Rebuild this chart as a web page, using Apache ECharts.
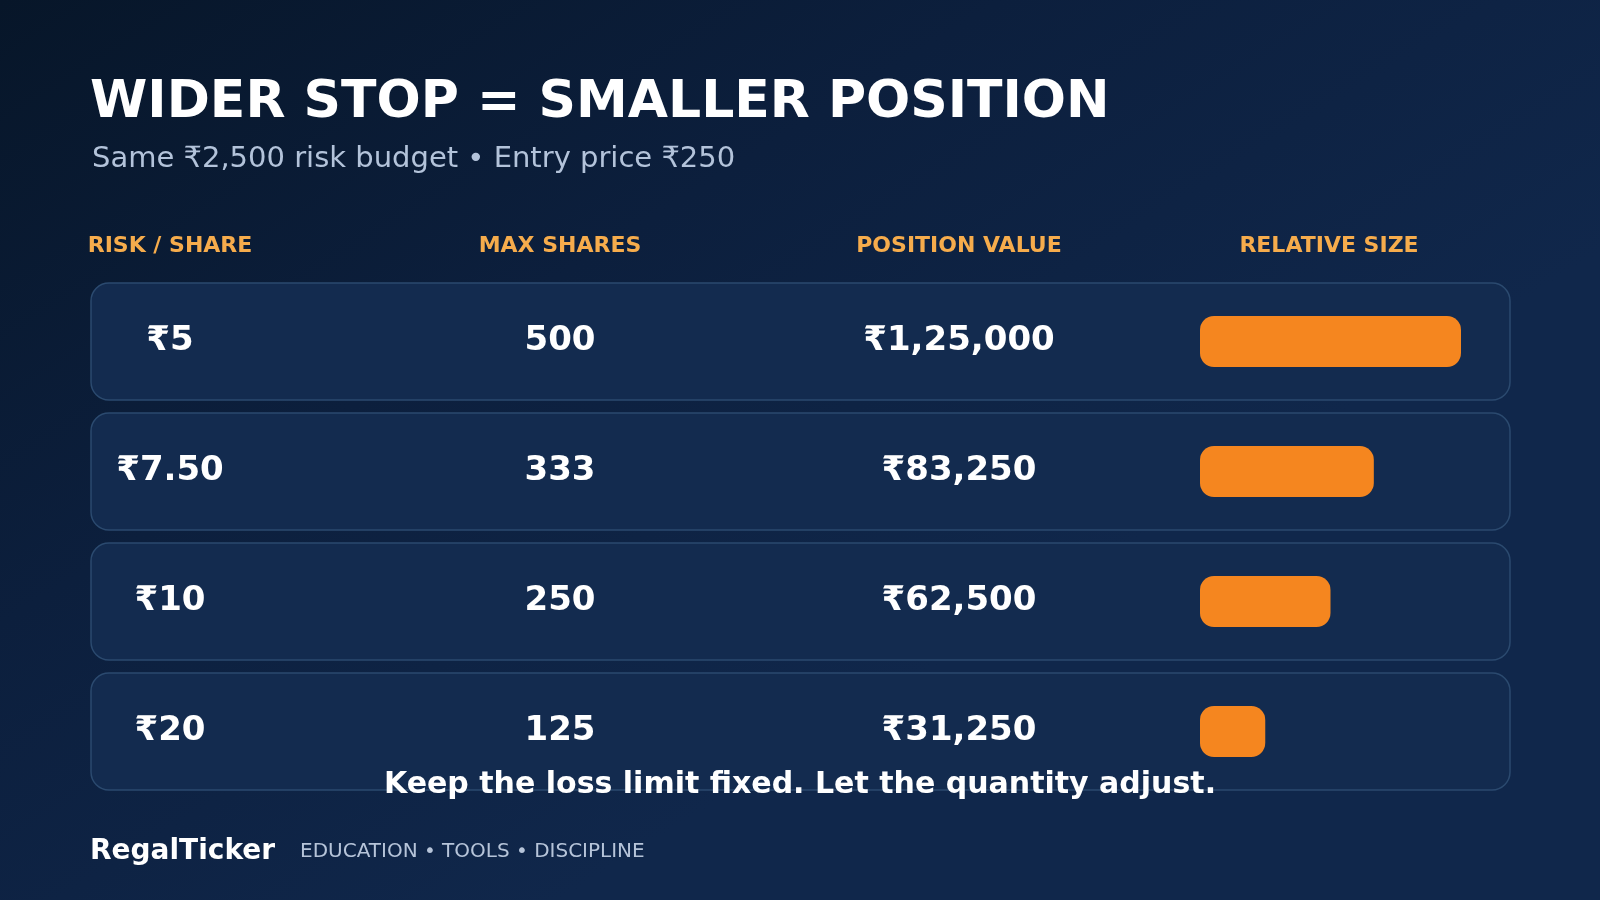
<!DOCTYPE html>
<html>
<head>
<meta charset="utf-8">
<script src="https://cdn.jsdelivr.net/npm/echarts@6/dist/echarts.min.js"></script>
<style>
html,body{margin:0;padding:0;background:#0a1a33;}
#chart{width:1600px;height:900px;}
</style>
</head>
<body>
<div id="chart"></div>
<script>
// ---- data ----
const headers = ['RISK / SHARE', 'MAX SHARES', 'POSITION VALUE', 'RELATIVE SIZE'];
const riskPerShare = ['₹5', '₹7.50', '₹10', '₹20'];
const maxShares = [500, 333, 250, 125];
const positionValue = [125000, 83250, 62500, 31250];
const titleText = 'WIDER STOP = SMALLER POSITION';
const subtitleText = 'Same ₹2,500 risk budget • Entry price ₹250';
const noteText = 'Keep the loss limit fixed. Let the quantity adjust.';
const brandText = 'RegalTicker';
const taglineText = 'EDUCATION • TOOLS • DISCIPLINE';

function inr(n) {
  const s = String(Math.round(n));
  if (s.length <= 3) return '₹' + s;
  const last3 = s.slice(-3);
  let rest = s.slice(0, -3);
  const parts = [];
  while (rest.length > 2) { parts.unshift(rest.slice(-2)); rest = rest.slice(0, -2); }
  if (rest.length) parts.unshift(rest);
  return '₹' + parts.join(',') + ',' + last3;
}

const FONT = '"DejaVu Sans", "Noto Sans", sans-serif';
const colX = [170, 560, 959, 1329];
const chart = echarts.init(document.getElementById('chart'), null, {renderer: 'canvas'});

const rowData = riskPerShare.map((r, i) => [0, i]);

const option = {
  backgroundColor: new echarts.graphic.LinearGradient(0, 0, 0.35, 1, [
    {offset: 0, color: '#071629'},
    {offset: 0.5, color: '#0c1f3d'},
    {offset: 1, color: '#10274b'}
  ]),
  animation: false,
  grid: [
    {left: 91, right: 90, top: 276.5, height: 520},
    {left: 1200, width: 261, top: 276.5, height: 520}
  ],
  xAxis: [
    {gridIndex: 0, type: 'value', min: 0, max: 1, show: false},
    {gridIndex: 1, type: 'value', min: 0, max: 125000, show: false}
  ],
  yAxis: [
    {gridIndex: 0, type: 'category', data: riskPerShare, inverse: true, show: false},
    {gridIndex: 1, type: 'category', data: riskPerShare, inverse: true, show: false}
  ],
  graphic: [
    {type: 'text', x: 90, y: 103, style: {text: titleText, fill: '#ffffff', font: 'bold 52px ' + FONT, align: 'left', verticalAlign: 'middle'}},
    {type: 'text', x: 92, y: 159, style: {text: subtitleText, fill: '#b3c3da', font: '29px ' + FONT, align: 'left', verticalAlign: 'middle'}},
    ...headers.map((h, i) => ({
      type: 'text', x: colX[i], y: 246.5,
      style: {text: h, fill: '#f6ac4c', font: 'bold 22px ' + FONT, align: 'center', verticalAlign: 'middle'}
    })),
    {type: 'text', x: 800, y: 785.5, z: 100,
      style: {text: noteText, fill: '#ffffff', font: 'bold 30px ' + FONT, align: 'center', verticalAlign: 'middle'}},
    {type: 'text', x: 90, y: 852,
      style: {text: brandText, fill: '#ffffff', font: 'bold 28px ' + FONT, align: 'left', verticalAlign: 'middle'}},
    {type: 'text', x: 300, y: 852,
      style: {text: taglineText, fill: '#b6c4d9', font: '20px ' + FONT, align: 'left', verticalAlign: 'middle'}}
  ],
  series: [
    {
      type: 'custom',
      xAxisIndex: 0, yAxisIndex: 0,
      z: 1,
      encode: {x: 0, y: 1},
      data: rowData,
      renderItem: function (params, api) {
        const i = api.value(1);
        const cs = params.coordSys;
        const cy = api.coord([0, i])[1];
        const h = 117;
        const txt = [riskPerShare[i], String(maxShares[i]), inr(positionValue[i])];
        return {
          type: 'group',
          children: [
            {type: 'rect', shape: {x: cs.x, y: cy - h / 2, width: cs.width, height: h, r: 18},
              style: {fill: '#132b4f', stroke: '#2b4a6f', lineWidth: 1.5}},
            ...txt.map((t, k) => ({
              type: 'text',
              style: {text: t, x: colX[k], y: cy, fill: '#ffffff', font: 'bold 34px ' + FONT,
                align: 'center', verticalAlign: 'middle'}
            }))
          ]
        };
      }
    },
    {
      type: 'bar',
      xAxisIndex: 1, yAxisIndex: 1,
      z: 3,
      barWidth: 51,
      data: positionValue,
      itemStyle: {color: '#f5861f', borderRadius: 14},
      silent: true
    }
  ]
};
chart.setOption(option);
</script>
</body>
</html>
